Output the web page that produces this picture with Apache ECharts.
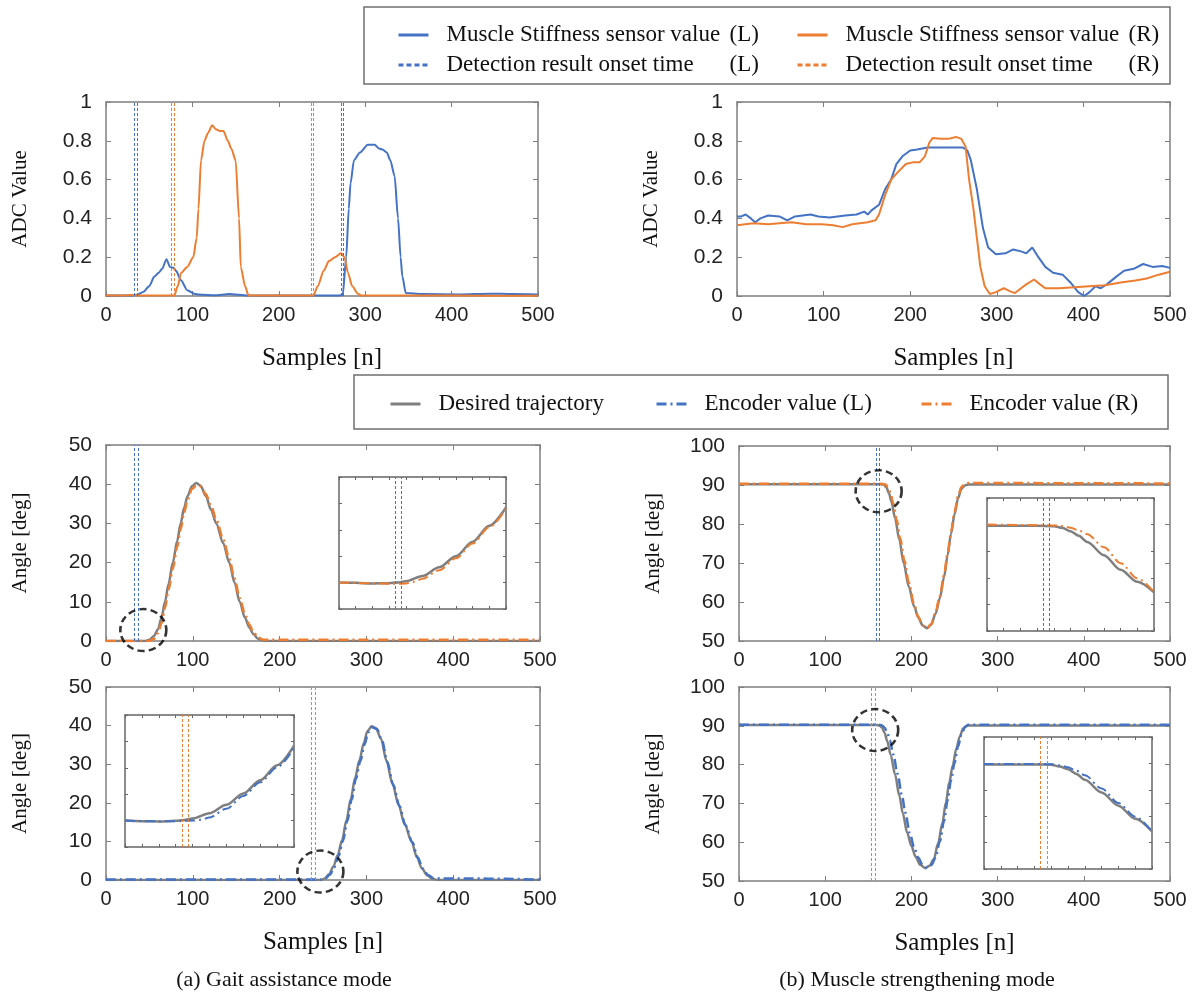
<!DOCTYPE html>
<html>
<head>
<meta charset="utf-8">
<script src="https://cdn.jsdelivr.net/npm/echarts@6/dist/echarts.min.js"></script>
<style>
  html, body { margin: 0; padding: 0; background: #fff; }
  #chart { width: 1201px; height: 994px; }
</style>
</head>
<body>
<div id="chart"></div>
<script>
// ---- data ----
// top row: muscle stiffness sensor (ADC value)
const stiffGaitL = [[0,0.003],[10,0.003],[20,0.002],[32,0.003],[36,0.006],[43,0.02],[50,0.05],[56,0.1],[61,0.12],[65,0.14],[70,0.19],[74,0.15],[78,0.145],[81,0.13],[87,0.08],[94,0.03],[103,0.01],[112,0.006],[125,0.004],[143,0.01],[150,0.008],[165,0.002],[200,0.003],[240,0.002],[269,0.002],[274,0.006],[278,0.2],[281,0.45],[283,0.58],[287,0.7],[294,0.74],[303,0.78],[311,0.78],[316,0.76],[320,0.755],[325,0.74],[329,0.7],[334,0.62],[338,0.4],[341,0.2],[343,0.1],[347,0.015],[365,0.01],[409,0.008],[445,0.012],[470,0.01],[500,0.008]];
const stiffGaitR = [[0,0.002],[20,0.003],[30,0.005],[40,0.002],[79,0.002],[83,0.05],[87,0.12],[94,0.15],[101,0.2],[105,0.3],[107,0.45],[110,0.7],[114,0.8],[118,0.84],[123,0.88],[127,0.86],[132,0.85],[136,0.85],[141,0.8],[145,0.76],[150,0.7],[154,0.4],[156,0.15],[161,0.05],[165,0.002],[200,0.002],[240,0.002],[245,0.05],[252,0.13],[258,0.18],[265,0.2],[272,0.22],[276,0.2],[280,0.12],[285,0.05],[292,0.01],[296,0.002],[400,0.002],[500,0.001]];
const stiffStrL = [[0,0.41],[5,0.41],[10,0.42],[16,0.4],[21,0.38],[27,0.4],[36,0.415],[49,0.41],[58,0.39],[67,0.41],[85,0.42],[94,0.41],[107,0.405],[125,0.415],[138,0.42],[147,0.435],[151,0.42],[155,0.44],[164,0.47],[171,0.55],[178,0.6],[184,0.68],[191,0.72],[200,0.75],[208,0.755],[220,0.765],[261,0.765],[266,0.75],[270,0.7],[277,0.55],[284,0.35],[290,0.25],[299,0.215],[310,0.22],[319,0.24],[328,0.23],[334,0.22],[341,0.25],[348,0.2],[356,0.15],[365,0.12],[376,0.11],[385,0.07],[394,0.02],[401,0.0],[407,0.02],[414,0.05],[420,0.04],[427,0.06],[438,0.1],[447,0.13],[458,0.14],[469,0.165],[480,0.15],[491,0.155],[500,0.145]];
const stiffStrR = [[0,0.365],[19,0.375],[36,0.37],[49,0.375],[63,0.38],[80,0.37],[98,0.37],[111,0.365],[122,0.355],[133,0.37],[151,0.38],[160,0.39],[164,0.42],[171,0.52],[178,0.6],[186,0.64],[195,0.68],[204,0.69],[211,0.69],[217,0.72],[222,0.79],[226,0.815],[235,0.81],[244,0.81],[253,0.82],[259,0.81],[264,0.77],[268,0.6],[273,0.45],[277,0.3],[281,0.15],[286,0.05],[292,0.01],[299,0.02],[308,0.04],[315,0.025],[321,0.015],[328,0.04],[334,0.06],[343,0.085],[350,0.06],[356,0.04],[372,0.04],[390,0.045],[407,0.05],[425,0.055],[443,0.07],[460,0.08],[473,0.09],[487,0.11],[500,0.125]];
const onsetTopL = [33, 36, 272, 275];
const onsetTopR = [75, 79, 237, 240];

// angle plots: desired trajectory and encoder values
const trajGait1 = [[0,0],[45,0],[50,0.3],[55,1.2],[60,3],[64,6],[68,10],[72,14.5],[77,20],[82,25.5],[86,30],[90,34],[94,37],[99,39.5],[104,40.3],[109,39.6],[115,37],[121,33.5],[127,30],[135,25],[142,20],[148,15],[154,10],[160,6],[165,3.5],[170,1.7],[175,0.6],[180,0.15],[185,0],[500,0]];
const encGait1R = [[0,0],[50,0],[55,0.5],[60,2],[64,4.6],[68,8.5],[72,13],[77,18.5],[82,24],[86,28.5],[90,32.8],[94,36],[99,38.8],[104,39.6],[109,39.4],[115,37.5],[121,34.5],[127,31],[135,26],[142,21],[148,16],[154,11],[160,7],[165,4.2],[170,2.2],[175,1],[180,0.4],[186,0.3],[300,0.3],[400,0.3],[500,0.3]];
const onsetGait1 = [33, 37];
const markGait1 = [43, 2.8];

const trajStr1 = [[0,90.2],[165,90.2],[168,90.1],[171,89.4],[174,87.9],[177,85.6],[181,81.5],[186,76],[191,70],[197,64],[203,59],[208,56],[213,54],[218,53.3],[223,54.2],[228,57],[233,61],[238,66.5],[242,72],[246,77.5],[250,82.5],[254,86.5],[258,89],[262,89.9],[266,90.1],[500,90.1]];
const encStr1R = [[0,90.3],[165,90.3],[170,90.1],[173,89.4],[176,87.8],[179,85.2],[183,81],[187,76.3],[192,70.5],[197,65],[203,59.6],[208,56.2],[213,54],[218,53.3],[223,54.3],[228,57.3],[233,61.5],[238,67],[242,72.5],[246,78],[250,83],[254,87],[258,89.5],[262,90.3],[266,90.5],[500,90.4]];
const onsetStr1 = [159, 163];
const markStr1 = [162, 88.4];

const trajGait2 = [[0,0],[248,0],[252,0.4],[257,1.5],[262,3.5],[267,6.5],[272,10.3],[277,15.5],[282,21],[287,26.5],[292,31],[297,35.5],[301,38.5],[306,39.8],[311,39.3],[317,36.5],[323,31],[330,25],[337,19.5],[344,14.5],[352,10],[358,6],[364,3],[370,1.2],[376,0.3],[382,0],[500,0]];
const encGait2L = [[0,0.1],[248,0.1],[253,0.4],[258,1.4],[263,3.3],[268,6.3],[273,10.2],[278,15.3],[283,20.8],[288,26.3],[293,30.8],[298,35.2],[302,38.3],[307,39.6],[312,39.1],[318,36.2],[324,30.6],[331,24.6],[338,19.2],[345,14.2],[353,9.8],[359,5.9],[365,3],[371,1.3],[377,0.5],[385,0.4],[420,0.4],[460,0.3],[500,0.1]];
const onsetGait2 = [237, 241];
const markGait2 = [247, 2.2];

const trajStr2 = [[0,90.2],[160,90.2],[163,90.1],[166,89.5],[169,88.1],[172,86],[176,82.5],[181,77.5],[186,72],[190,67.5],[195,62.5],[200,59],[205,56.2],[210,54.2],[216,53.3],[221,53.9],[226,55.6],[231,59.7],[236,65],[240,70.2],[244,75.5],[248,79.8],[252,84],[256,87.2],[260,89.3],[264,90],[268,90.1],[500,90.1]];
const encStr2L = [[0,90.3],[162,90.3],[166,90.1],[169,89.5],[172,88.2],[175,86.3],[179,82.6],[184,77.6],[189,72],[193,67.6],[198,62.4],[203,58.8],[208,56],[213,54.1],[218,53.4],[223,54.1],[228,56],[233,60.2],[238,65.6],[242,70.8],[246,76],[250,80.4],[254,84.6],[258,87.7],[262,89.6],[266,90.3],[500,90.3]];
const onsetStr2 = [154, 158];
const markStr2 = [158, 88.9];

// zoomed insets (own 0-10 / 0-5 scale)
const zoomGait1Traj = [[0,1.0],[1,0.99],[2,0.97],[3,0.98],[3.5,1.0],[4,1.05],[5,1.25],[6,1.58],[7,2.0],[8,2.55],[9,3.15],[10,3.85]];
const zoomGait1Enc = [[0,1.0],[1,0.99],[2,0.97],[3,0.96],[3.5,0.95],[4,0.97],[4.5,1.03],[5,1.15],[6,1.47],[7,1.92],[8,2.48],[9,3.1],[10,3.8]];
const zoomGait1Onset = [3.35, 3.72];
const zoomStr1Traj = [[0,3.96],[3,3.96],[4,3.94],[4.5,3.88],[5,3.75],[5.5,3.58],[6,3.35],[7,2.85],[8,2.3],[9,1.85],[10,1.45]];
const zoomStr1Enc = [[0,4.0],[3,3.98],[4,3.97],[4.5,3.95],[5,3.88],[5.5,3.78],[6,3.64],[7,3.15],[8,2.55],[9,1.98],[10,1.47]];
const zoomStr1Onset = [3.37, 3.73];
const zoomGait2Traj = [[0,1.0],[1,0.98],[2,0.97],[3,0.99],[3.5,1.02],[4,1.08],[5,1.28],[6,1.6],[7,2.03],[8,2.53],[9,3.1],[10,3.84]];
const zoomGait2Enc = [[0,1.0],[1,0.98],[2,0.97],[3,0.98],[3.5,0.99],[4,1.0],[4.5,1.03],[5,1.12],[6,1.45],[7,1.93],[8,2.45],[9,3.02],[10,3.75]];
const zoomGait2Onset = [3.4, 3.74];
const zoomStr2Traj = [[0,3.96],[3,3.96],[4,3.95],[4.5,3.88],[5,3.78],[5.5,3.6],[6,3.38],[7,2.9],[8,2.4],[9,1.9],[10,1.42]];
const zoomStr2Enc = [[0,3.98],[3,3.98],[4,3.97],[4.5,3.93],[5,3.85],[5.5,3.72],[6,3.55],[7,3.05],[8,2.5],[9,1.98],[10,1.42]];
const zoomStr2Onset = [3.34, 3.75];

const MS_L = 'Muscle Stiffness sensor value (L)';
const MS_R = 'Muscle Stiffness sensor value (R)';
const DT_L = 'Detection result onset time (L)';
const DT_R = 'Detection result onset time (R)';
const DES = 'Desired trajectory';
const EN_L = 'Encoder value (L)';
const EN_R = 'Encoder value (R)';

const BLUE = '#4472C4', ORANGE = '#ED7D31', GRAY = '#7f7f7f';
const DASHDOT = [10, 4, 2, 4];
const SERIF = 'Liberation Serif', SANS = 'Liberation Sans';

// layout of the panels (px)
const grids = [
  {left: 106, top: 102, width: 432, height: 194},
  {left: 737, top: 102, width: 433, height: 194},
  {left: 106, top: 445, width: 434, height: 196},
  {left: 739, top: 446, width: 431, height: 195},
  {left: 106, top: 687, width: 434, height: 193},
  {left: 739, top: 687, width: 431, height: 194},
  {left: 339, top: 477, width: 167, height: 132},
  {left: 987, top: 498, width: 167, height: 133},
  {left: 125, top: 715, width: 169, height: 132},
  {left: 984, top: 737, width: 168, height: 132}
];
const yRanges = [[0,1,0.2],[0,1,0.2],[0,50,10],[50,100,10],[0,50,10],[50,100,10],[0,5,1],[0,5,1],[0,5,1],[0,5,1]];
const yNames = ['ADC Value','ADC Value','Angle [deg]','Angle [deg]','Angle [deg]','Angle [deg]'];
const xNames = ['Samples [n]','Samples [n]','','','Samples [n]','Samples [n]'];

const xAxes = [], yAxes = [];
grids.forEach(function (g, i) {
  const inset = i >= 6;
  const xr = inset ? [0, 10, 1] : [0, 500, 100];
  const yr = yRanges[i];
  const c = inset ? '#666' : '#7f7f7f';
  const base = {
    gridIndex: i, type: 'value', splitLine: {show: false},
    axisLine: {show: true, onZero: false, lineStyle: {color: c, width: 1.5}},
    axisTick: {show: true, inside: true, length: inset ? 3 : 5, lineStyle: {color: c}}
  };
  const label = {show: !inset, fontFamily: SANS, fontSize: 20, color: '#222'};
  xAxes.push(Object.assign({}, base, {
    position: 'bottom', min: xr[0], max: xr[1], interval: xr[2],
    axisLabel: Object.assign({margin: 9}, label),
    name: inset ? '' : xNames[i], nameLocation: 'middle', nameGap: 50,
    nameTextStyle: {fontFamily: SERIF, fontSize: 25, color: '#111'}
  }));
  xAxes.push(Object.assign({}, base, {
    position: 'top', min: xr[0], max: xr[1], interval: xr[2], axisLabel: {show: false}
  }));
  yAxes.push(Object.assign({}, base, {
    position: 'left', min: yr[0], max: yr[1], interval: yr[2],
    axisLabel: Object.assign({margin: 14}, label, {fontSize: 21}),
    name: inset ? '' : yNames[i], nameLocation: 'middle', nameGap: 75,
    nameTextStyle: {fontFamily: SERIF, fontSize: 21, color: '#111'}
  }));
  yAxes.push(Object.assign({}, base, {
    position: 'right', min: yr[0], max: yr[1], interval: yr[2], axisLabel: {show: false}
  }));
});

function line(name, data, g, color, type, width, smooth) {
  return {
    name: name, type: 'line', data: data, xAxisIndex: 2 * g, yAxisIndex: 2 * g,
    symbol: 'none', smooth: smooth || false, smoothMonotone: 'x', color: color,
    lineStyle: {color: color, width: width, type: type}, z: 3
  };
}
function onset(name, xs, g, color) {
  return {
    name: name, type: 'line', data: [], xAxisIndex: 2 * g, yAxisIndex: 2 * g,
    symbol: 'none', color: color, lineStyle: {color: color, width: 2.5, type: [5, 3]},
    markLine: {
      silent: true, symbol: ['none', 'none'], label: {show: false},
      lineStyle: {color: color, width: 1, type: [3, 2]},
      emphasis: {disabled: true},
      data: xs.map(function (x) { return {xAxis: x}; })
    }
  };
}
function ring(pt, g) {
  return {
    type: 'scatter', data: [pt], xAxisIndex: 2 * g, yAxisIndex: 2 * g, silent: true, z: 5,
    symbol: 'circle', symbolSize: [46, 42],
    itemStyle: {color: 'rgba(0,0,0,0)', borderColor: '#000', borderWidth: 2.5, borderType: [7, 4]}
  };
}

const series = [
  line(MS_L, stiffGaitL, 0, BLUE, 'solid', 2, 0.25),
  line(MS_R, stiffGaitR, 0, ORANGE, 'solid', 2, 0.25),
  onset(DT_L, onsetTopL, 0, BLUE),
  onset(DT_R, onsetTopR, 0, ORANGE),
  line(MS_L, stiffStrL, 1, BLUE, 'solid', 2),
  line(MS_R, stiffStrR, 1, ORANGE, 'solid', 2),

  line(DES, trajGait1, 2, GRAY, 'solid', 2.5, 0.3),
  line(EN_R, encGait1R, 2, ORANGE, DASHDOT, 2.5, 0.3),
  onset(DT_L, onsetGait1, 2, BLUE),
  ring(markGait1, 2),

  line(DES, trajStr1, 3, GRAY, 'solid', 2.5, 0.3),
  line(EN_R, encStr1R, 3, ORANGE, DASHDOT, 2.5, 0.3),
  onset(DT_L, onsetStr1, 3, BLUE),
  ring(markStr1, 3),

  line(DES, trajGait2, 4, GRAY, 'solid', 2.5, 0.3),
  line(EN_L, encGait2L, 4, BLUE, DASHDOT, 2.5, 0.3),
  onset(DT_R, onsetGait2, 4, ORANGE),
  ring(markGait2, 4),

  line(DES, trajStr2, 5, GRAY, 'solid', 2.5, 0.3),
  line(EN_L, encStr2L, 5, BLUE, DASHDOT, 2.5, 0.3),
  onset(DT_R, onsetStr2, 5, ORANGE),
  ring(markStr2, 5),

  line(DES, zoomGait1Traj, 6, GRAY, 'solid', 2.5, 0.3),
  line(EN_R, zoomGait1Enc, 6, ORANGE, DASHDOT, 2, 0.3),
  onset(DT_L, zoomGait1Onset, 6, BLUE),
  line(DES, zoomStr1Traj, 7, GRAY, 'solid', 2.5, 0.3),
  line(EN_R, zoomStr1Enc, 7, ORANGE, DASHDOT, 2, 0.3),
  onset(DT_L, zoomStr1Onset, 7, BLUE),
  line(DES, zoomGait2Traj, 8, GRAY, 'solid', 2.5, 0.3),
  line(EN_L, zoomGait2Enc, 8, BLUE, DASHDOT, 2, 0.3),
  onset(DT_R, zoomGait2Onset, 8, ORANGE),
  line(DES, zoomStr2Traj, 9, GRAY, 'solid', 2.5, 0.3),
  line(EN_L, zoomStr2Enc, 9, BLUE, DASHDOT, 2, 0.3),
  onset(DT_R, zoomStr2Onset, 9, ORANGE)
];

const legendText = {fontFamily: SERIF, fontSize: 23, color: '#111', padding: [0, 0, 0, 13], lineHeight: 24};
function splitName(name) {
  const k = name.lastIndexOf(' (');
  return '{a|' + name.slice(0, k) + '}{b|' + name.slice(k + 1) + '}';
}
const richText = Object.assign({}, legendText, {
  rich: {
    a: {width: 283, fontFamily: SERIF, fontSize: 23, color: '#111', lineHeight: 24},
    b: {fontFamily: SERIF, fontSize: 23, color: '#111', lineHeight: 24}
  }
});
function legend(left, top, names, rich) {
  return {
    left: left, top: top, orient: 'vertical', itemGap: 6, itemWidth: 30, itemHeight: 14,
    selectedMode: false, data: names,
    itemStyle: {opacity: 0},
    lineStyle: {width: 3},
    textStyle: rich ? richText : legendText,
    formatter: rich ? splitName : undefined
  };
}

const chart = echarts.init(document.getElementById('chart'));
chart.setOption({
  animation: false,
  backgroundColor: '#fff',
  textStyle: {fontFamily: SANS},
  grid: grids.map(function (g, i) {
    return Object.assign({
      outerBoundsMode: 'none', containLabel: false,
      show: i >= 6, backgroundColor: '#fff', borderWidth: 0
    }, g);
  }),
  xAxis: xAxes,
  yAxis: yAxes,
  legend: [
    legend(392, 18, [MS_L, DT_L], true),
    legend(791, 18, [MS_R, DT_R], true),
    legend(384, 387, [DES]),
    legend(650, 387, [EN_L]),
    legend(915, 387, [EN_R])
  ],
  graphic: [
    {type: 'rect', shape: {x: 364, y: 7, width: 806, height: 77}, style: {fill: 'none', stroke: '#6f6f6f', lineWidth: 1.5}, silent: true},
    {type: 'rect', shape: {x: 354, y: 375, width: 814, height: 54}, style: {fill: 'none', stroke: '#6f6f6f', lineWidth: 1.5}, silent: true},
    {type: 'text', x: 284, y: 980, style: {text: '(a) Gait assistance mode', fontFamily: SERIF, fontSize: 22, fill: '#111', align: 'center', verticalAlign: 'middle'}, silent: true},
    {type: 'text', x: 917, y: 980, style: {text: '(b) Muscle strengthening mode', fontFamily: SERIF, fontSize: 22, fill: '#111', align: 'center', verticalAlign: 'middle'}, silent: true}
  ],
  series: series
});
</script>
</body>
</html>
